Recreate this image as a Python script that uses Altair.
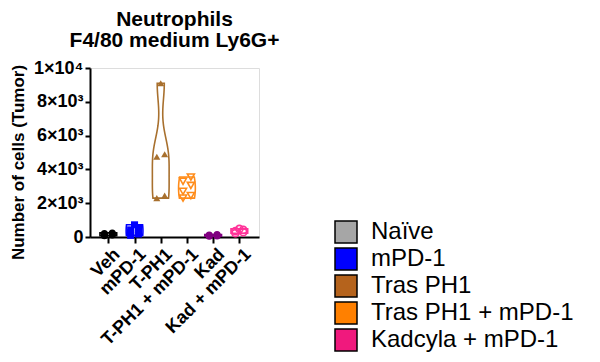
import json
import altair as alt
import pandas as pd

FONT = "Liberation Sans, Arial, Helvetica, sans-serif"

# ---- data -------------------------------------------------------------
groups = ["Veh", "mPD-1", "T-PH1", "T-PH1 + mPD-1", "Kad", "Kad + mPD-1"]
group_colors = ["#000000", "#0000FF", "#A8702E", "#FF8C1A", "#800080", "#FF3399"]
group_shapes = ["circle", "square", "triangle-up", "triangle-down", "circle", "circle"]
open_groups = ["T-PH1 + mPD-1", "Kad + mPD-1"]

veh = [80, 120, 150, 180, 210, 240]
mpd1 = [100, 180, 260, 330, 420, 550, 720]
tph1 = [2300, 2450, 4750, 4900, 9100]
tph1_mpd1 = [2300, 2450, 2700, 3050, 3300, 3550]
kad = [40, 60, 80, 100, 120, 140]
kad_mpd1 = [220, 280, 350, 420, 480]
series = [veh, mpd1, tph1, tph1_mpd1, kad, kad_mpd1]

legend_labels = ["Naïve", "mPD-1", "Tras PH1", "Tras PH1 + mPD-1", "Kadcyla + mPD-1"]
legend_colors = ["#A6A6A6", "#0000FF", "#B5631C", "#FF8000", "#F0197D"]

y_ticks = [0, 2000, 4000, 6000, 8000, 10000]
y_tick_labels = ["0", "2×10³", "4×10³", "6×10³", "8×10³", "1×10⁴"]

title_lines = ["Neutrophils", "F4/80 medium Ly6G+"]
y_title = "Number of cells (Tumor)"

# ---- tables -------------------------------------------------------------
rows = []
for g, vals in zip(groups, series):
    for v in vals:
        rows.append({"group": g, "value": v})
df = pd.DataFrame(rows)
leg_df = pd.DataFrame({"name": legend_labels})

grp_js = json.dumps(groups, ensure_ascii=False)
pos_expr = f"indexof({grp_js}, datum.group)"
ylab_expr = (
    f"{json.dumps(y_tick_labels, ensure_ascii=False)}"
    f"[indexof({json.dumps(y_ticks)}, datum.value)]"
)

xscale = alt.Scale(domain=[-0.7, 5.75], nice=False, zero=False)
yscale = alt.Scale(domain=[0, 10000], nice=False, zero=True)
col_scale = alt.Scale(domain=groups, range=group_colors)
shape_scale = alt.Scale(domain=groups, range=group_shapes)

x_axis = alt.Axis(
    values=list(range(len(groups))),
    labelExpr=f"{grp_js}[datum.value]",
    labelAngle=315,
    labelAlign="right",
    labelBaseline="top",
    labelOffset=2,
    labelPadding=2,
    labelFontSize=18,
    labelFontWeight="bold",
    labelFont=FONT,
    labelColor="black",
    labelOverlap=False,
    labelBound=False,
    labelFlush=False,
    title=None,
    grid=False,
    tickSize=6,
    tickWidth=2,
    tickColor="black",
    domainColor="black",
    domainWidth=2,
)
y_axis = alt.Axis(
    values=y_ticks,
    labelExpr=ylab_expr,
    labelFontSize=18,
    labelFontWeight="bold",
    labelFont=FONT,
    labelColor="black",
    labelPadding=2,
    labelOverlap=False,
    labelBound=False,
    labelFlush=False,
    tickSize=5,
    tickWidth=2,
    tickColor="black",
    domainColor="black",
    domainWidth=2,
    grid=False,
    title=y_title,
    titleFont=FONT,
    titleFontSize=17,
    titleFontWeight="bold",
    titleColor="black",
    titleBaseline="middle",
    titleX=-72,
    titleY=94,
)

# ---- violins (truncated at each group's min / max) -------------------------
violin = (
    alt.Chart(df)
    .transform_joinaggregate(vmin="min(value)", vmax="max(value)", groupby=["group"])
    .transform_density(
        "value",
        groupby=["group", "vmin", "vmax"],
        as_=["value", "density"],
        bandwidth=1200,
        steps=2500,
    )
    .transform_filter("datum.value >= datum.vmin - 3 && datum.value <= datum.vmax + 3")
    .transform_joinaggregate(maxd="max(density)", groupby=["group"])
    .transform_calculate(pos=pos_expr)
    .transform_calculate(
        left="datum.pos - 0.32 * datum.density / datum.maxd",
        right="datum.pos + 0.32 * datum.density / datum.maxd",
    )
    .mark_area(orient="horizontal", fill="white", fillOpacity=1, strokeWidth=1.6)
    .encode(
        y=alt.Y("value:Q", scale=yscale, axis=y_axis),
        x=alt.X("left:Q", scale=xscale, axis=x_axis),
        x2="right:Q",
        stroke=alt.Stroke("group:N", scale=col_scale, legend=None),
    )
)

# ---- points ----------------------------------------------------------------
pts_base = (
    alt.Chart(df)
    .transform_joinaggregate(n="count()", groupby=["group"])
    .transform_window(rk="row_number()", groupby=["group"], sort=[alt.SortField("value")])
    .transform_calculate(pos=pos_expr)
    .transform_calculate(
        xp="datum.pos + ((datum.rk == datum.n && datum.n % 2 == 1) ? 0 : (datum.rk % 2 == 0 ? 1 : -1) * 0.15)"
    )
    .encode(
        x=alt.X("xp:Q", scale=xscale, axis=x_axis),
        y=alt.Y("value:Q", scale=yscale, axis=y_axis),
        color=alt.Color("group:N", scale=col_scale, legend=None),
        shape=alt.Shape("group:N", scale=shape_scale, legend=None),
    )
)
pts_filled = pts_base.transform_filter(
    {"not": alt.FieldOneOfPredicate(field="group", oneOf=open_groups)}
).mark_point(filled=True, size=50, opacity=1)
pts_open = pts_base.transform_filter(
    alt.FieldOneOfPredicate(field="group", oneOf=open_groups)
).mark_point(filled=False, size=50, strokeWidth=1.6, opacity=1)

# ---- legend ----------------------------------------------------------------
legend_layer = alt.Chart(leg_df).mark_square(size=0, strokeWidth=0).encode(
    fill=alt.Fill(
        "name:N",
        scale=alt.Scale(domain=legend_labels, range=legend_colors),
        legend=alt.Legend(
            title=None,
            orient="none",
            legendX=244,
            legendY=152,
            symbolType="square",
            symbolSize=484,
            symbolStrokeColor="black",
            symbolStrokeWidth=1.5,
            symbolOpacity=1,
            labelFontSize=24,
            labelFont=FONT,
            labelColor="black",
            labelOffset=13,
            rowPadding=-1,
            padding=0,
            labelLimit=400,
        ),
    )
)

chart = (
    alt.layer(violin, pts_filled, pts_open, legend_layer)
    .properties(
        width=169,
        height=169,
        padding={"left": 0, "top": 1, "right": 0, "bottom": 0},
        title=alt.Title(
            title_lines,
            font=FONT,
            fontSize=21,
            fontWeight="bold",
            color="black",
            anchor="middle",
            frame="group",
            lineHeight=21,
            offset=8,
        ),
    )
    .configure_axis(labelOverlap=False)
    .configure_view(stroke=None)
    .configure(background="white")
)

chart.save("out.html", embed_options={"renderer": "svg", "actions": False})
